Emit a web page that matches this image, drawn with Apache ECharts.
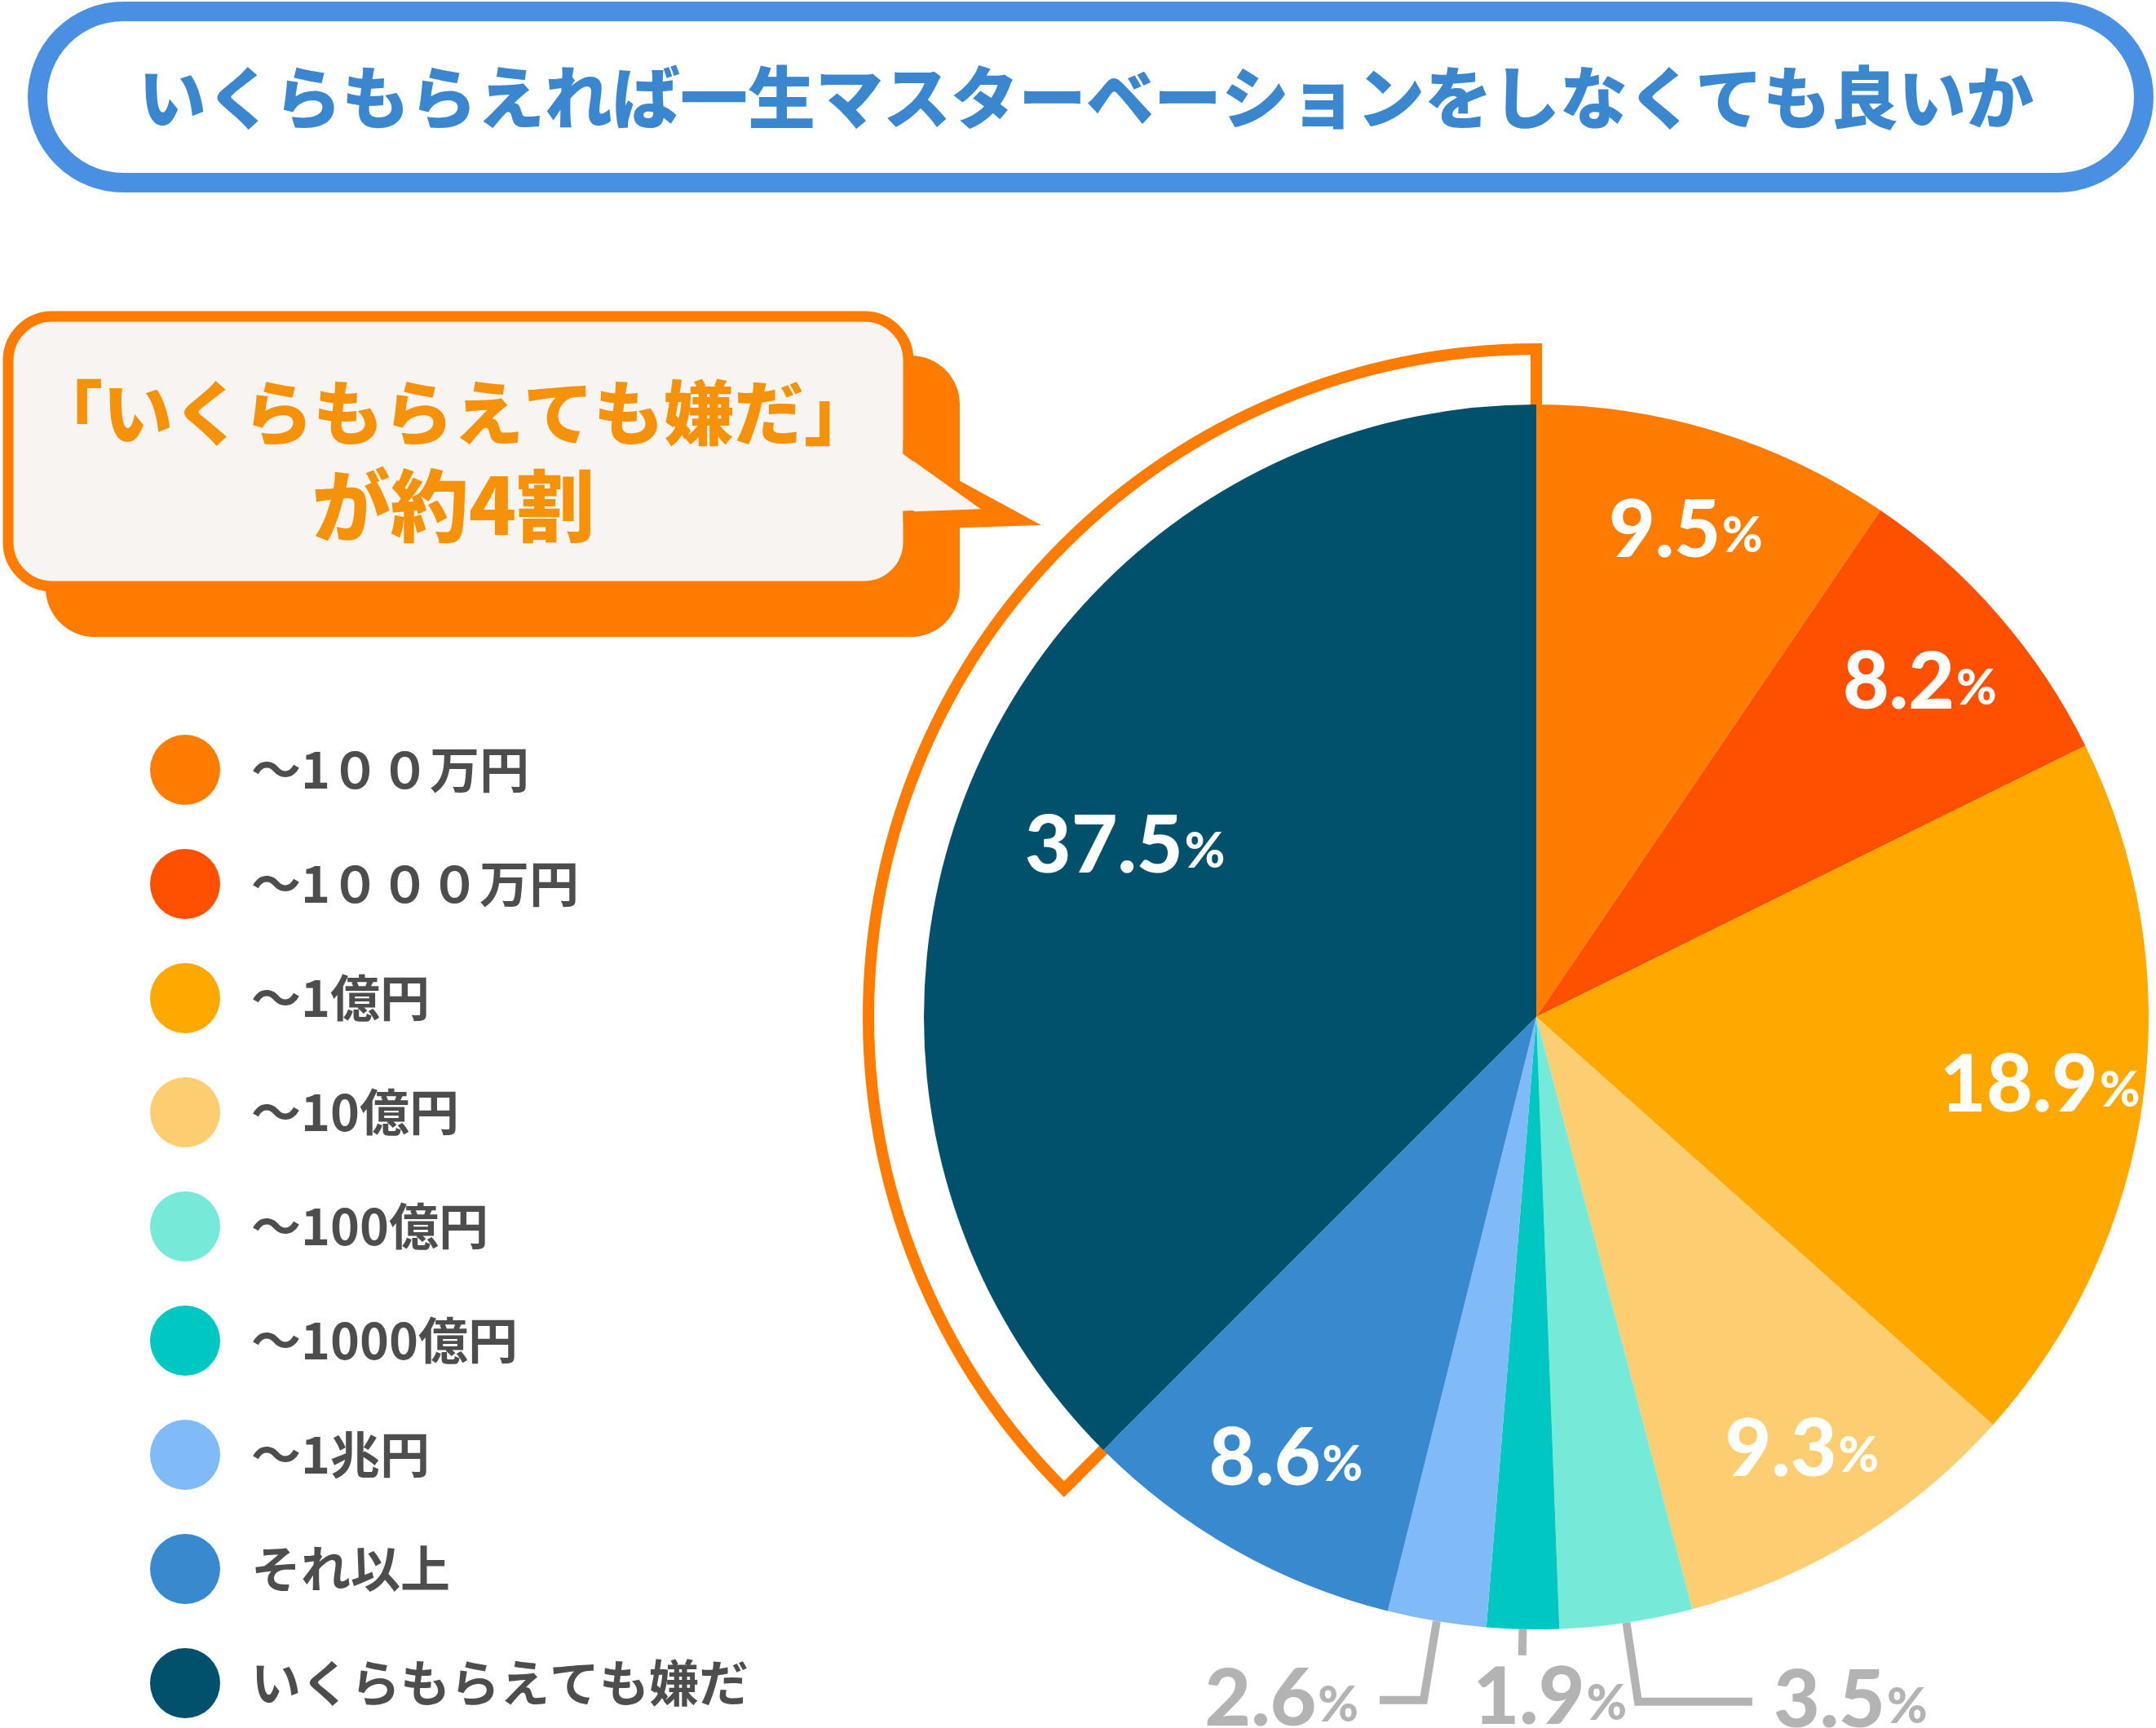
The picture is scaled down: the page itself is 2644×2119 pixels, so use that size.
<!DOCTYPE html>
<html lang="ja" style="height: 100%">
<head>
    <meta charset="utf-8">
    <title>いくらもらえれば一生マスターベーションをしなくても良いか</title>
    <script src="https://cdn.jsdelivr.net/npm/echarts@6.0.0/dist/echarts.min.js"></script>
    <style>
        html, body { margin: 0; padding: 0; background: #fff; }
        #chart { width: 2644px; height: 2119px; }
    </style>
</head>
<body>
<div id="chart"></div>

<script type="text/javascript">
    var myChart = echarts.init(document.getElementById('chart'));

    // データ
    var titleText = 'いくらもらえれば一生マスターベーションをしなくても良いか';
    var calloutLines = ['「いくらもらえても嫌だ」', 'が約4割'];
    var categories = ['～1００万円', '～1０００万円', '～1億円', '～10億円', '～100億円',
        '～1000億円', '～1兆円', 'それ以上', 'いくらもらえても嫌だ'];
    var values = [9.5, 8.2, 18.9, 9.3, 3.5, 1.9, 2.6, 8.6, 37.5];
    var colors = ['#ff7c00', '#ff5000', '#ffa800', '#fdcd72', '#77e9d9',
        '#00c7c2', '#80bbf7', '#3889cd', '#02516c'];

    var CX = 1884, CY = 1247, R = 751;
    var ORANGE = '#ff7c00';
    var CREAM = '#f7f4f1';
    var GRAY = '#b3b3b3';
    var numFont = 'Lato, "Noto Sans", sans-serif';
    var jpFont = '"Noto Sans CJK JP", sans-serif';

    // 小さいスライス（外側ラベル）
    var outside = {
        4: { length: 98, length2: 140 },
        5: { length: 32, length2: 0 },
        6: { length: 98, length2: 54 }
    };

    function richLabel(color) {
        return {
            formatter: function (p) { return '{v|' + p.value + '}{p|%}'; },
            rich: {
                v: { fontSize: 98, fontWeight: 900, fontFamily: numFont, color: color },
                p: { fontSize: 60, fontWeight: 900, fontFamily: numFont, color: color, padding: [14, 0, 0, 2] }
            }
        };
    }

    var mainData = values.map(function (v, i) {
        var item = { name: categories[i], value: v, itemStyle: { color: colors[i] } };
        if (outside[i]) {
            item.label = Object.assign({
                show: true,
                position: 'outside',
                distanceToLabelLine: 26
            }, richLabel(GRAY));
            item.labelLine = {
                show: true,
                length: outside[i].length,
                length2: outside[i].length2,
                smooth: false,
                lineStyle: { color: GRAY, width: 10 }
            };
        } else {
            item.label = { show: false };
            item.labelLine = { show: false };
        }
        return item;
    });

    function overlayData(showIdx) {
        return values.map(function (v, i) {
            return {
                name: categories[i],
                value: v,
                itemStyle: { color: 'rgba(0,0,0,0)' },
                label: { show: showIdx.indexOf(i) >= 0 }
            };
        });
    }

    var bracketData = values.map(function (v, i) {
        var last = i === values.length - 1;
        return {
            name: categories[i],
            value: v,
            itemStyle: last ? {
                color: '#fff', borderColor: ORANGE, borderWidth: 14, borderJoin: 'miter'
            } : { color: 'rgba(0,0,0,0)', borderWidth: 0 }
        };
    });

    var option = {
        backgroundColor: '#fff',
        animation: false,
        legend: {
            data: categories,
            orient: 'vertical',
            left: 179,
            top: 896,
            icon: 'circle',
            itemWidth: 86,
            itemHeight: 86,
            itemGap: 54,
            selectedMode: false,
            textStyle: {
                fontSize: 61,
                fontWeight: 'bold',
                fontFamily: jpFont,
                color: '#4d4d4d',
                padding: [0, 0, 0, 33]
            }
        },
        graphic: [
            // タイトル
            {
                type: 'rect',
                shape: { x: 46, y: 14, width: 2583, height: 210, r: 105 },
                style: { fill: '#fff', stroke: '#4a90e2', lineWidth: 24 }
            },
            {
                type: 'text',
                x: 1332, y: 119,
                style: {
                    text: titleText,
                    align: 'center', verticalAlign: 'middle',
                    fontSize: 83, fontWeight: 900, fontFamily: jpFont,
                    fill: '#3a87cf'
                }
            },
            // 吹き出し（影）
            {
                type: 'rect',
                shape: { x: 56, y: 436, width: 1121, height: 345, r: 60 },
                style: { fill: ORANGE }
            },
            {
                type: 'polygon',
                shape: { points: [[1150, 575], [1277, 644], [1150, 648]] },
                style: { fill: ORANGE }
            },
            // 吹き出し本体
            {
                type: 'rect',
                shape: { x: 10, y: 388, width: 1104, height: 331, r: 54 },
                style: { fill: CREAM, stroke: ORANGE, lineWidth: 13 }
            },
            {
                type: 'polygon',
                shape: { points: [[1114, 553], [1222, 630], [1114, 634]] },
                style: { fill: CREAM, stroke: ORANGE, lineWidth: 13, lineJoin: 'miter' }
            },
            {
                type: 'polygon',
                shape: { points: [[1098, 550], [1198, 622], [1098, 627]] },
                style: { fill: CREAM }
            },
            {
                type: 'text',
                x: 556, y: 506,
                style: {
                    text: calloutLines[0],
                    align: 'center', verticalAlign: 'middle',
                    fontSize: 86, fontWeight: 900, fontFamily: jpFont,
                    fill: '#f5920a'
                }
            },
            {
                type: 'text',
                x: 556, y: 620,
                style: {
                    text: calloutLines[1],
                    align: 'center', verticalAlign: 'middle',
                    fontSize: 96, fontWeight: 900, fontFamily: jpFont,
                    fill: '#f5920a'
                }
            }
        ],
        series: [
            {
                // 本体
                name: 'main',
                type: 'pie',
                z: 3,
                center: [CX, CY],
                radius: R,
                startAngle: 90,
                silent: true,
                avoidLabelOverlap: false,
                itemStyle: { borderWidth: 0 },
                labelLayout: function (p) {
                    if (p.dataIndex === 5 && p.labelLinePoints) {
                        var pt = p.labelLinePoints[p.labelLinePoints.length - 1];
                        return {
                            x: pt[0] + 34, y: pt[1] + 4,
                            align: 'center', verticalAlign: 'top',
                            labelLinePoints: p.labelLinePoints
                        };
                    }
                },
                data: mainData
            },
            {
                // 「いくらもらえても嫌だ」の囲み
                name: 'bracket',
                type: 'pie',
                z: 2,
                center: [CX, CY],
                radius: [738, 819],
                startAngle: 90,
                silent: true,
                label: { show: false },
                labelLine: { show: false },
                data: bracketData
            },
            {
                // 内側ラベル
                name: 'labels',
                type: 'pie',
                z: 4,
                center: [CX, CY],
                radius: [490, R],
                startAngle: 90,
                silent: true,
                label: Object.assign({ position: 'inside' }, richLabel('#fff')),
                labelLine: { show: false },
                data: overlayData([0, 1, 2, 3, 7])
            },
            {
                name: 'labels2',
                type: 'pie',
                z: 4,
                center: [CX, CY],
                radius: [335, R],
                startAngle: 90,
                silent: true,
                label: Object.assign({ position: 'inside' }, richLabel('#fff')),
                labelLine: { show: false },
                data: overlayData([8])
            }
        ]
    };

    myChart.setOption(option);
</script>
</body>
</html>
